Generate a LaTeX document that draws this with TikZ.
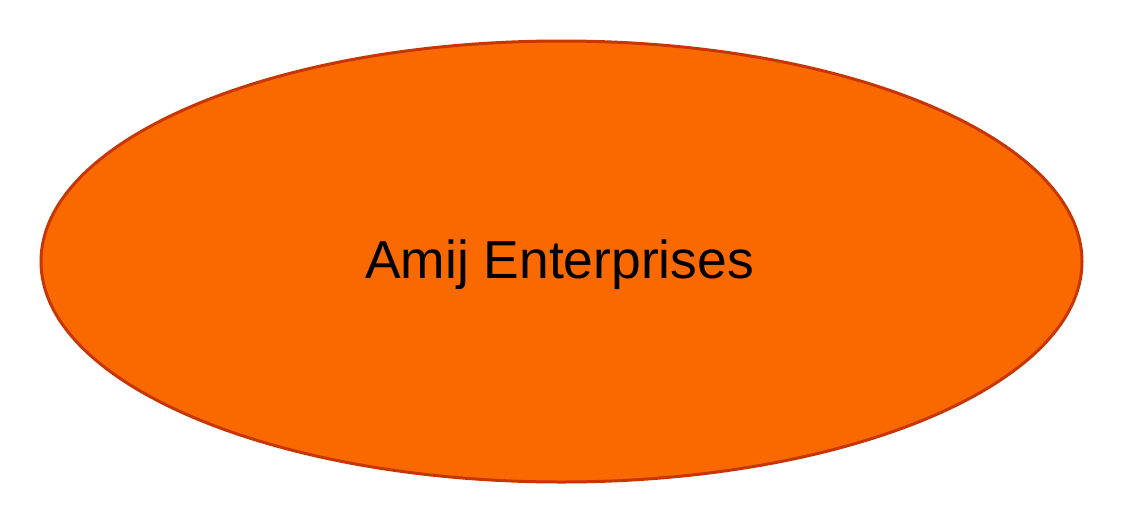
\documentclass[tikz,border=0pt]{standalone}
\usepackage{fontspec}
\setmainfont{Liberation Sans}
\usetikzlibrary{shapes.geometric}
\definecolor{ellfill}{HTML}{FA6800}
\definecolor{elldraw}{HTML}{C73500}
\begin{document}
\begin{tikzpicture}[x=1pt,y=-1pt,
  oval/.style={ellipse,fill=ellfill,draw=elldraw,line width=3pt,inner sep=0pt},
  lbl/.style={font=\fontsize{53.4}{60}\selectfont,text=black,anchor=base}]
\useasboundingbox (0,0) rectangle (1124,528);
\node[oval,minimum width=1041pt,minimum height=441pt] (e) at (561.5,261.5) {};
\node[lbl] (t) at (559.5,278) {Amij Enterprises};
\end{tikzpicture}
\end{document}
